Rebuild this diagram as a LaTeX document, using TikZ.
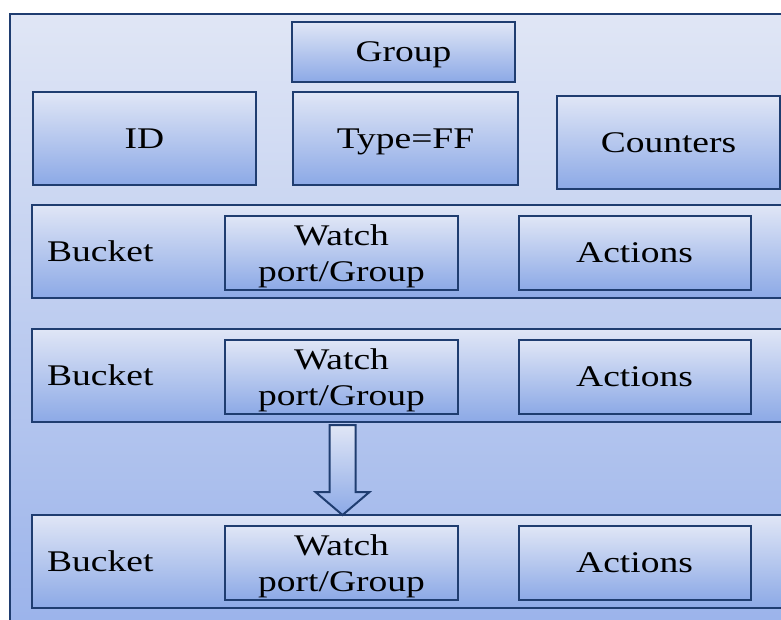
\documentclass[tikz,border=0pt]{standalone}
\usepackage{fontspec}
\setmainfont{Liberation Serif}[FakeStretch=1.25]
\usetikzlibrary{shapes.arrows}

\definecolor{edge}{HTML}{1F3D70}
\definecolor{boxtop}{HTML}{E0E6F6}
\definecolor{boxbot}{HTML}{8CA9E6}
\definecolor{bgtop}{HTML}{E0E6F5}
\definecolor{bgbot}{HTML}{98B1EA}

\tikzset{
  field/.style={draw=edge, line width=2pt, shading=axis, top color=boxtop,
    bottom color=boxbot, inner sep=0pt, align=center, text depth=0pt,
    font=\fontsize{30}{36}\selectfont},
  label/.style={inner sep=0pt, anchor=west, font=\fontsize{30}{36}\selectfont},
}

\begin{document}
\begin{tikzpicture}[x=1pt, y=-1pt]
  \useasboundingbox (0,0) rectangle (781,619);
  \clip (0,0) rectangle (781,619);

  % outer group entry
  \node[draw=edge, line width=2pt, shading=axis, top color=bgtop, bottom color=bgbot,
        minimum width=800pt, minimum height=640pt, anchor=north west, inner sep=0pt]
        (entry) at (9,13) {};

  % header fields
  \node[field, minimum width=223pt, minimum height=60pt] (group) at (403.5,52) {Group};
  \node[field, minimum width=223pt, minimum height=93pt] (id) at (144.5,138.5) {ID};
  \node[field, minimum width=225pt, minimum height=93pt] (type) at (405.5,138.5) {Type=FF};
  \node[field, minimum width=223pt, minimum height=93pt] (counters) at (668.5,142.5) {Counters};

  % buckets
  \foreach \n/\y/\wy in {1/251.5/253, 2/375.5/377, 3/561.5/563} {
    \node[field, minimum width=800pt, minimum height=93pt, anchor=west] (bucket\n) at (31,\y) {};
    \node[label] (blabel\n) at (47,\y) {Bucket};
    \node[field, minimum width=233pt, minimum height=74pt] (watch\n) at (341.5,\wy) {Watch\\port/Group};
    \node[field, minimum width=232pt, minimum height=74pt] (actions\n) at (634.5,\wy) {Actions};
  }

  % fail-over arrow between buckets
  \path[draw=edge, line width=2pt, shading=axis, top color=boxtop, bottom color=boxbot]
    (329.5,425) -- (355.5,425) -- (355.5,492) -- (369.5,492) -- (342.5,515)
    -- (315.5,492) -- (329.5,492) -- cycle;
\end{tikzpicture}
\end{document}
